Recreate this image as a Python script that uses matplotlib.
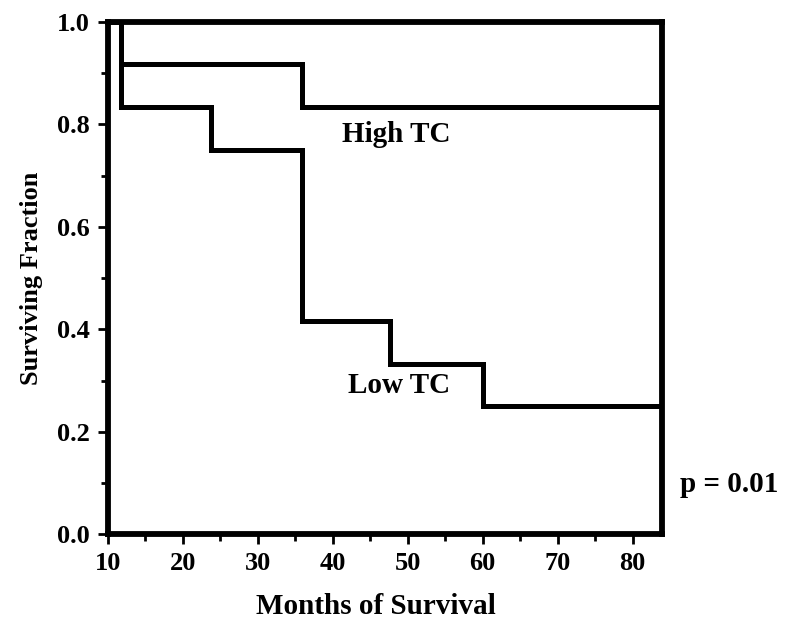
import numpy as np
import matplotlib.pyplot as plt
from matplotlib.ticker import MultipleLocator

plt.rcParams['font.family'] = ['Liberation Serif', 'DejaVu Serif']
plt.rcParams['font.weight'] = 'bold'

# Kaplan-Meier steps (months, surviving fraction)
high_t = [10, 11.7, 35.9, 83.9]
high_s = [1.0, 0.917, 0.833, 0.833]
low_t = [10, 11.7, 23.8, 35.9, 47.7, 60.1, 83.9]
low_s = [1.0, 0.833, 0.75, 0.417, 0.333, 0.25, 0.25]

fig = plt.figure(figsize=(7.87, 6.27), dpi=100)
ax = fig.add_axes([0.137, 0.148, 0.704, 0.817])

ax.step(high_t, high_s, where='post', color='black', lw=3.6, solid_joinstyle='miter')
ax.step(low_t, low_s, where='post', color='black', lw=3.6, solid_joinstyle='miter')

ax.text(48.5, 0.78, 'High TC', fontsize=21, fontweight='bold', ha='center', va='center')
ax.text(48.8, 0.29, 'Low TC', fontsize=21, fontweight='bold', ha='center', va='center')
ax.text(86.3, 0.097, 'p = 0.01', fontsize=21, fontweight='bold', ha='left', va='center')

ax.set_xlim(10, 83.9)
ax.set_ylim(0, 1.0)
ax.xaxis.set_major_locator(MultipleLocator(10))
ax.xaxis.set_minor_locator(MultipleLocator(5))
ax.yaxis.set_major_locator(MultipleLocator(0.2))
ax.yaxis.set_minor_locator(MultipleLocator(0.1))
ax.set_yticklabels([f'{v:.1f}' for v in ax.get_yticks()])

for s in ax.spines.values():
    s.set_linewidth(4.2)
ax.tick_params(which='major', direction='out', length=7, width=2, labelsize=19, pad=6)
ax.tick_params(which='minor', direction='out', length=5, width=2)

ax.set_xlabel('Months of Survival', fontsize=21, fontweight='bold')
ax.set_ylabel('Surviving Fraction', fontsize=19, fontweight='bold')
ax.xaxis.set_label_coords(0.484, -0.114)
ax.yaxis.set_label_coords(-0.117, 0.5)

fig.savefig('out.png', dpi=100)
